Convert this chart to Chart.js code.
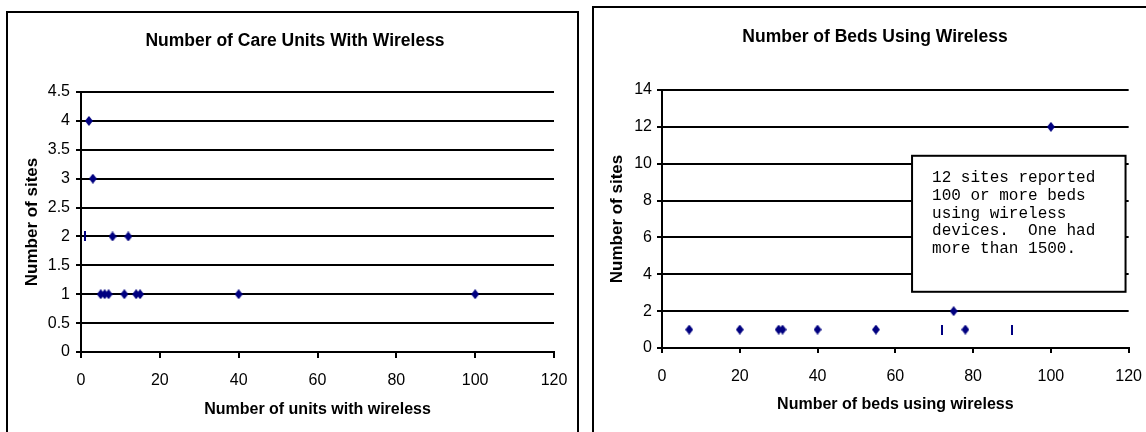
<!DOCTYPE html>
<html>
<head>
<meta charset="utf-8">
<script src="https://cdn.jsdelivr.net/npm/chart.js@4.4.1/dist/chart.umd.min.js"></script>
<style>
  html, body { margin: 0; padding: 0; background: #fff; width: 1146px; height: 432px; overflow: hidden; position: relative; }
  .frame { position: absolute; border: 2px solid #000; box-sizing: border-box; background: #fff; }
  #frameUnits { left: 6px; top: 11px; width: 573px; height: 440px; }
  #frameBeds { left: 592px; top: 6px; width: 600px; height: 450px; }
  canvas { position: absolute; }
  #unitsChart { left: 8px; top: 13px; }
  #bedsChart { left: 594px; top: 8px; }
</style>
</head>
<body>
<div class="frame" id="frameUnits"></div>
<div class="frame" id="frameBeds"></div>
<canvas id="unitsChart" width="574" height="419"></canvas>
<canvas id="bedsChart" width="562" height="424"></canvas>
<script>
// ---- data ----
// left chart: care units with wireless
const unitsX     = [2, 3, 8, 12, 5, 6, 7, 11, 14, 15, 40, 100];
const unitsSites = [4, 3, 2, 2, 1, 1, 1, 1, 1, 1, 1, 1];
// points that show up as a thin bar instead of a diamond
const unitsThinX     = [1];
const unitsThinSites = [2];
const unitsYTicks = [0, 0.5, 1, 1.5, 2, 2.5, 3, 3.5, 4, 4.5];

// right chart: beds using wireless
const bedsX     = [100, 75, 7, 20, 30, 31, 40, 55, 78];
const bedsSites = [12, 2, 1, 1, 1, 1, 1, 1, 1];
const bedsThinX     = [72, 90];
const bedsThinSites = [1, 1];
const bedsYTicks = [0, 2, 4, 6, 8, 10, 12, 14];

const xTicks = [0, 20, 40, 60, 80, 100, 120];

const noteLines = [
  '12 sites reported',
  '100 or more beds',
  'using wireless',
  'devices.  One had',
  'more than 1500.'
];

const NAVY = '#000080';
Chart.defaults.font.family = "'Liberation Sans', Arial, sans-serif";
Chart.defaults.color = '#000';

// little marker images
function marker(w, h, diamond) {
  const c = document.createElement('canvas');
  c.width = w; c.height = h;
  const g = c.getContext('2d');
  g.fillStyle = NAVY;
  if (diamond) {
    g.beginPath();
    g.moveTo(w / 2, 0);
    g.lineTo(w, h / 2);
    g.lineTo(w / 2, h);
    g.lineTo(0, h / 2);
    g.closePath();
    g.fill();
  } else {
    g.fillRect(0, 0, w, h);
  }
  return c;
}
const diamondImg = marker(8, 10, true);
const barImg = marker(2, 10, false);

const toPoints = (xs, ys) => xs.map((x, i) => ({ x: x, y: ys[i] }));

// text box in the beds chart (data units of the chart)
const noteBox = { x0: 64.3, x1: 119.2, y0: 3.05, y1: 10.43 };
const notePlugin = {
  id: 'note',
  afterDraw(chart) {
    const { ctx, scales: { x, y } } = chart;
    const l = x.getPixelForValue(noteBox.x0);
    const r = x.getPixelForValue(noteBox.x1);
    const t = y.getPixelForValue(noteBox.y1);
    const b = y.getPixelForValue(noteBox.y0);
    ctx.save();
    ctx.fillStyle = '#fff';
    ctx.fillRect(l, t, r - l, b - t);
    ctx.strokeStyle = '#000';
    ctx.lineWidth = 2;
    ctx.strokeRect(l, t, r - l, b - t);
    ctx.fillStyle = '#000';
    ctx.font = "16px 'Liberation Mono', 'Courier New', monospace";
    ctx.textBaseline = 'middle';
    noteLines.forEach((line, i) => {
      ctx.fillText(line, l + 20, t + 22 + i * 17.8);
    });
    ctx.restore();
  }
};

function buildChart(id, o) {
  return new Chart(document.getElementById(id), {
    type: 'scatter',
    data: {
      datasets: [
        { data: toPoints(o.xs, o.ys), pointStyle: diamondImg, pointRadius: 4, clip: false },
        { data: toPoints(o.thinXs, o.thinYs), pointStyle: barImg, pointRadius: 4, clip: false }
      ]
    },
    options: {
      responsive: false,
      animation: false,
      events: [],
      layout: { padding: 0 },
      plugins: {
        legend: { display: false },
        tooltip: { enabled: false },
        title: {
          display: true,
          text: o.title,
          color: '#000',
          font: { size: 17.5, weight: 'bold' },
          padding: { top: o.titleTop, bottom: o.titleBottom }
        }
      },
      scales: {
        x: {
          type: 'linear',
          position: 'bottom',
          min: 0,
          max: 120,
          afterBuildTicks: s => { s.ticks = xTicks.map(v => ({ value: v })); },
          afterFit: s => { s.height = o.xHeight; },
          grid: { drawOnChartArea: false, drawTicks: true, tickLength: o.xTickLen, color: '#000', lineWidth: 2 },
          border: { display: true, color: '#000', width: 2 },
          ticks: { color: '#000', padding: o.xTickPad, font: { size: 16 }, maxRotation: 0, autoSkip: false,
                   callback: v => String(v) },
          title: { display: true, text: o.xTitle, color: '#000', font: { size: 16, weight: 'bold' },
                   padding: { top: 0, bottom: o.xTitlePad } }
        },
        y: {
          type: 'linear',
          position: 'left',
          min: 0,
          max: o.yTicks[o.yTicks.length - 1],
          afterBuildTicks: s => { s.ticks = o.yTicks.map(v => ({ value: v })); },
          afterFit: s => { s.width = o.yWidth; },
          grid: { color: '#000', lineWidth: 2, tickLength: 5 },
          border: { display: true, color: '#000', width: 2 },
          ticks: { color: '#000', padding: o.yTickPad, font: { size: 16 }, callback: v => String(v) },
          title: { display: true, text: 'Number of sites', color: '#000', font: { size: 17, weight: 'bold' },
                   padding: { top: o.yTitlePad, bottom: 0 } }
        },
        // empty box on the right so the title centres over the whole panel
        gap: {
          type: 'linear',
          position: 'right',
          min: 0,
          max: 1,
          afterFit: s => { s.width = o.rightGap; },
          grid: { display: false },
          border: { display: false },
          ticks: { display: false }
        }
      }
    },
    plugins: o.plugins || []
  });
}

buildChart('unitsChart', {
  xs: unitsX, ys: unitsSites, thinXs: unitsThinX, thinYs: unitsThinSites,
  yTicks: unitsYTicks,
  title: 'Number of Care Units With Wireless',
  xTitle: 'Number of units with wireless',
  titleTop: 17.8, titleBottom: 40.2,
  yWidth: 73, yTickPad: 6, yTitlePad: 13.8,
  xHeight: 80, xTickLen: 6, xTickPad: 13, xTitlePad: 12.4,
  rightGap: 28
});

buildChart('bedsChart', {
  xs: bedsX, ys: bedsSites, thinXs: bedsThinX, thinYs: bedsThinSites,
  yTicks: bedsYTicks,
  title: 'Number of Beds Using Wireless',
  xTitle: 'Number of beds using wireless',
  titleTop: 19, titleBottom: 42,
  yWidth: 68, yTickPad: 5, yTitlePad: 12.8,
  xHeight: 84, xTickLen: 5, xTickPad: 14, xTitlePad: 17.4,
  rightGap: 25,
  plugins: [notePlugin]
});
</script>
</body>
</html>
